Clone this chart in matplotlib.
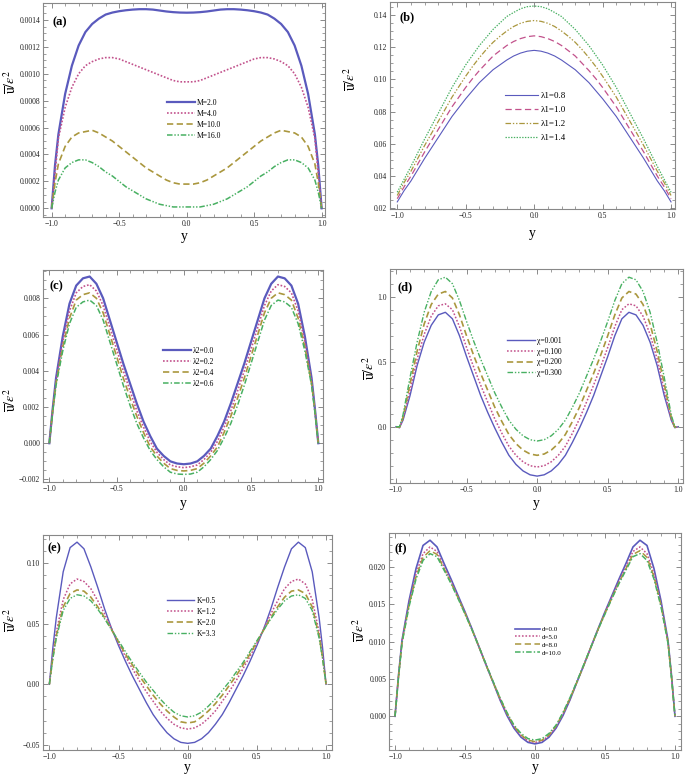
import matplotlib.pyplot as plt
from matplotlib.ticker import MultipleLocator, AutoMinorLocator, FuncFormatter

plt.rcParams['font.family'] = ['Liberation Serif', 'DejaVu Serif']
plt.rcParams['mathtext.fontset'] = 'stix'
plt.rcParams['lines.scale_dashes'] = False

# transverse coordinate y (shared by all panels)
yy = [-1, -0.975, -0.95, -0.9, -0.85, -0.8, -0.75, -0.7, -0.65, -0.6, -0.55, -0.5, -0.45,
      -0.4, -0.35, -0.3, -0.25, -0.2, -0.15, -0.1, -0.05, 0, 0.05, 0.1, 0.15, 0.2, 0.25,
      0.3, 0.35, 0.4, 0.45, 0.5, 0.55, 0.6, 0.65, 0.7, 0.75, 0.8, 0.85, 0.9, 0.95, 0.975, 1]

# (a) M
a_m2 = [0, 0.00032, 0.00055, 0.00085, 0.00106, 0.00121, 0.00131, 0.00137, 0.00141, 0.00144, 0.001455,
        0.001465, 0.001472, 0.001477, 0.00148, 0.00148, 0.001477, 0.00147, 0.001463, 0.001458, 0.001455,
        0.001454, 0.001455, 0.001458, 0.001463, 0.00147, 0.001477, 0.00148, 0.00148, 0.001477, 0.001472,
        0.001465, 0.001455, 0.00144, 0.00141, 0.00137, 0.00131, 0.00121, 0.00106, 0.00085, 0.00055, 0.00032, 0]
a_m4 = [0, 0.00026, 0.00052, 0.00075, 0.00090, 0.00100, 0.00106, 0.00109, 0.00111, 0.00112, 0.00112,
        0.00111, 0.00109, 0.00107, 0.00105, 0.00103, 0.00101, 0.00099, 0.00097, 0.00095, 0.00094,
        0.00094, 0.00094, 0.00095, 0.00097, 0.00099, 0.00101, 0.00103, 0.00105, 0.00107, 0.00109,
        0.00111, 0.00112, 0.00112, 0.00111, 0.00109, 0.00106, 0.00100, 0.00090, 0.00075, 0.00052, 0.00026, 0]
a_m10 = [0, 0.00019, 0.00033, 0.00046, 0.00053, 0.00056, 0.00057, 0.00058, 0.00056, 0.00053, 0.00050,
         0.00046, 0.00042, 0.00038, 0.00034, 0.00030, 0.00027, 0.00024, 0.00021, 0.00019, 0.00018,
         0.00018, 0.00018, 0.00019, 0.00021, 0.00024, 0.00027, 0.00030, 0.00034, 0.00038, 0.00042,
         0.00046, 0.00050, 0.00053, 0.00056, 0.00058, 0.00057, 0.00056, 0.00053, 0.00046, 0.00033, 0.00019, 0]
a_m16 = [0, 0.00012, 0.00021, 0.00030, 0.00034, 0.00036, 0.00036, 0.00034, 0.00031, 0.00027, 0.00024,
         0.00020, 0.00016, 0.00013, 0.00010, 0.00007, 0.00005, 0.00003, 0.00002, 0.00001, 0.00001,
         0.00001, 0.00001, 0.00001, 0.00002, 0.00003, 0.00005, 0.00007, 0.00010, 0.00013, 0.00016,
         0.00020, 0.00024, 0.00027, 0.00031, 0.00034, 0.00036, 0.00036, 0.00034, 0.00030, 0.00021, 0.00012, 0]

# (b) lambda1
b_08 = [0.024, 0.0275, 0.031, 0.037, 0.044, 0.051, 0.0575, 0.064, 0.0705, 0.077, 0.0825, 0.088, 0.093,
        0.098, 0.102, 0.106, 0.109, 0.112, 0.1145, 0.1163, 0.1175, 0.118, 0.1175, 0.1163, 0.1145, 0.112,
        0.109, 0.106, 0.102, 0.098, 0.093, 0.088, 0.0825, 0.077, 0.0705, 0.064, 0.0575, 0.051, 0.044,
        0.037, 0.031, 0.0275, 0.024]
b_10 = [0.026, 0.0297, 0.0334, 0.040, 0.0475, 0.055, 0.062, 0.069, 0.076, 0.083, 0.089, 0.095, 0.1005,
        0.1055, 0.110, 0.1145, 0.1178, 0.121, 0.1235, 0.1253, 0.1265, 0.127, 0.1265, 0.1253, 0.1235, 0.121,
        0.1178, 0.1145, 0.110, 0.1055, 0.1005, 0.095, 0.089, 0.083, 0.076, 0.069, 0.062, 0.055, 0.0475,
        0.040, 0.0334, 0.0297, 0.026]
b_12 = [0.028, 0.032, 0.036, 0.043, 0.051, 0.059, 0.0665, 0.074, 0.0815, 0.089, 0.0955, 0.102, 0.108,
        0.1135, 0.1185, 0.123, 0.1267, 0.130, 0.1328, 0.1348, 0.136, 0.1365, 0.136, 0.1348, 0.1328, 0.130,
        0.1267, 0.123, 0.1185, 0.1135, 0.108, 0.102, 0.0955, 0.089, 0.0815, 0.074, 0.0665, 0.059, 0.051,
        0.043, 0.036, 0.032, 0.028]
b_14 = [0.030, 0.034, 0.038, 0.046, 0.0545, 0.063, 0.071, 0.079, 0.087, 0.095, 0.102, 0.109, 0.115,
        0.121, 0.126, 0.131, 0.135, 0.139, 0.1415, 0.1438, 0.1451, 0.1455, 0.1451, 0.1438, 0.1415, 0.139,
        0.135, 0.131, 0.126, 0.121, 0.115, 0.109, 0.102, 0.095, 0.087, 0.079, 0.071, 0.063, 0.0545,
        0.046, 0.038, 0.034, 0.030]

# (c) lambda2
c_00 = [0, 0.0019, 0.0036, 0.0059, 0.0077, 0.0087, 0.0091, 0.0092, 0.0088, 0.0080, 0.0068, 0.0056, 0.0044,
        0.0033, 0.0022, 0.0012, 0.0004, -0.0003, -0.0007, -0.0010, -0.00112, -0.00116, -0.00112, -0.0010,
        -0.0007, -0.0003, 0.0004, 0.0012, 0.0022, 0.0033, 0.0044, 0.0056, 0.0068, 0.0080, 0.0088, 0.0092,
        0.0091, 0.0087, 0.0077, 0.0059, 0.0036, 0.0019, 0]
c_02 = [0, 0.0018, 0.0034, 0.0056, 0.0073, 0.0083, 0.00865, 0.00875, 0.0084, 0.0076, 0.0064, 0.0052, 0.0040,
        0.0029, 0.0018, 0.0009, 0.0001, -0.0005, -0.0009, -0.0012, -0.0013, -0.00135, -0.0013, -0.0012,
        -0.0009, -0.0005, 0.0001, 0.0009, 0.0018, 0.0029, 0.0040, 0.0052, 0.0064, 0.0076, 0.0084, 0.00875,
        0.00865, 0.0083, 0.0073, 0.0056, 0.0034, 0.0018, 0]
c_04 = [0, 0.0018, 0.0033, 0.0053, 0.0069, 0.0079, 0.0082, 0.0083, 0.0080, 0.0072, 0.0060, 0.0048, 0.0036,
        0.0025, 0.0015, 0.0006, -0.0002, -0.0007, -0.0011, -0.0014, -0.0015, -0.00153, -0.0015, -0.0014,
        -0.0011, -0.0007, -0.0002, 0.0006, 0.0015, 0.0025, 0.0036, 0.0048, 0.0060, 0.0072, 0.0080, 0.0083,
        0.0082, 0.0079, 0.0069, 0.0053, 0.0033, 0.0018, 0]
c_06 = [0, 0.0017, 0.0032, 0.0051, 0.0066, 0.0075, 0.0078, 0.0079, 0.0076, 0.0068, 0.0056, 0.0044, 0.0032,
        0.0021, 0.0011, 0.0003, -0.0004, -0.0009, -0.0013, -0.0016, -0.0017, -0.00172, -0.0017, -0.0016,
        -0.0013, -0.0009, -0.0004, 0.0003, 0.0011, 0.0021, 0.0032, 0.0044, 0.0056, 0.0068, 0.0076, 0.0079,
        0.0078, 0.0075, 0.0066, 0.0051, 0.0032, 0.0017, 0]

# (d) chi
d_0001 = [0, -0.008, 0.05, 0.24, 0.47, 0.65, 0.78, 0.86, 0.88, 0.83, 0.70, 0.54, 0.39, 0.24, 0.11, -0.01,
          -0.12, -0.22, -0.29, -0.34, -0.37, -0.38, -0.37, -0.34, -0.29, -0.22, -0.12, -0.01, 0.11, 0.24,
          0.39, 0.54, 0.70, 0.83, 0.88, 0.86, 0.78, 0.65, 0.47, 0.24, 0.05, -0.008, 0]
d_01 = [0, -0.006, 0.06, 0.28, 0.52, 0.71, 0.85, 0.93, 0.945, 0.90, 0.77, 0.61, 0.46, 0.32, 0.19, 0.06,
        -0.05, -0.15, -0.22, -0.27, -0.30, -0.31, -0.30, -0.27, -0.22, -0.15, -0.05, 0.06, 0.19, 0.32,
        0.46, 0.61, 0.77, 0.90, 0.945, 0.93, 0.85, 0.71, 0.52, 0.28, 0.06, -0.006, 0]
d_02 = [0, -0.004, 0.07, 0.33, 0.58, 0.79, 0.94, 1.02, 1.04, 0.99, 0.86, 0.70, 0.55, 0.41, 0.28, 0.15,
        0.04, -0.06, -0.13, -0.18, -0.21, -0.22, -0.21, -0.18, -0.13, -0.06, 0.04, 0.15, 0.28, 0.41,
        0.55, 0.70, 0.86, 0.99, 1.04, 1.02, 0.94, 0.79, 0.58, 0.33, 0.07, -0.004, 0]
d_03 = [0, 0.0, 0.09, 0.38, 0.65, 0.88, 1.04, 1.13, 1.15, 1.10, 0.97, 0.81, 0.66, 0.52, 0.39, 0.26,
        0.15, 0.05, -0.02, -0.07, -0.10, -0.11, -0.10, -0.07, -0.02, 0.05, 0.15, 0.26, 0.39, 0.52,
        0.66, 0.81, 0.97, 1.10, 1.15, 1.13, 1.04, 0.88, 0.65, 0.38, 0.09, 0.0, 0]

# (e) K
e_05 = [0, 0.030, 0.055, 0.093, 0.113, 0.1175, 0.112, 0.097, 0.080, 0.062, 0.046, 0.032, 0.019, 0.007,
        -0.004, -0.015, -0.025, -0.033, -0.040, -0.045, -0.048, -0.0488, -0.048, -0.045, -0.040, -0.033,
        -0.025, -0.015, -0.004, 0.007, 0.019, 0.032, 0.046, 0.062, 0.080, 0.097, 0.112, 0.1175, 0.113,
        0.093, 0.055, 0.030, 0]
e_12 = [0, 0.024, 0.043, 0.070, 0.083, 0.087, 0.085, 0.079, 0.069, 0.058, 0.046, 0.034, 0.023, 0.013,
        0.003, -0.006, -0.014, -0.022, -0.028, -0.033, -0.036, -0.037, -0.036, -0.033, -0.028, -0.022,
        -0.014, -0.006, 0.003, 0.013, 0.023, 0.034, 0.046, 0.058, 0.069, 0.079, 0.085, 0.087, 0.083,
        0.070, 0.043, 0.024, 0]
e_20 = [0, 0.022, 0.040, 0.064, 0.075, 0.078, 0.077, 0.072, 0.064, 0.055, 0.045, 0.035, 0.025, 0.016,
        0.007, -0.001, -0.009, -0.016, -0.022, -0.027, -0.031, -0.032, -0.031, -0.027, -0.022, -0.016,
        -0.009, -0.001, 0.007, 0.016, 0.025, 0.035, 0.045, 0.055, 0.064, 0.072, 0.077, 0.078, 0.075,
        0.064, 0.040, 0.022, 0]
e_33 = [0, 0.021, 0.038, 0.061, 0.071, 0.074, 0.073, 0.069, 0.062, 0.054, 0.045, 0.036, 0.027, 0.018,
        0.010, 0.002, -0.005, -0.012, -0.018, -0.023, -0.026, -0.027, -0.026, -0.023, -0.018, -0.012,
        -0.005, 0.002, 0.010, 0.018, 0.027, 0.036, 0.045, 0.054, 0.062, 0.069, 0.073, 0.074, 0.071,
        0.061, 0.038, 0.021, 0]

# (f) d
f_0 = [0, 0.0055, 0.0102, 0.0155, 0.0198, 0.0229, 0.0236, 0.0227, 0.0205, 0.0184, 0.0162, 0.0140, 0.0117,
       0.0093, 0.0069, 0.0046, 0.0022, 0.0001, -0.0016, -0.0028, -0.0035, -0.0037, -0.0035, -0.0028,
       -0.0016, 0.0001, 0.0022, 0.0046, 0.0069, 0.0093, 0.0117, 0.0140, 0.0162, 0.0184, 0.0205, 0.0227,
       0.0236, 0.0229, 0.0198, 0.0155, 0.0102, 0.0055, 0]
f_5 = [0, 0.0054, 0.0100, 0.0151, 0.0191, 0.0218, 0.0227, 0.0221, 0.0200, 0.0181, 0.0160, 0.0139, 0.0116,
       0.0093, 0.0069, 0.0046, 0.0023, 0.0003, -0.0014, -0.0026, -0.0033, -0.0035, -0.0033, -0.0026,
       -0.0014, 0.0003, 0.0023, 0.0046, 0.0069, 0.0093, 0.0116, 0.0139, 0.0160, 0.0181, 0.0200, 0.0221,
       0.0227, 0.0218, 0.0191, 0.0151, 0.0100, 0.0054, 0]
f_8 = [0, 0.0053, 0.0099, 0.0149, 0.0187, 0.0213, 0.0222, 0.0217, 0.0198, 0.0179, 0.0159, 0.0138, 0.0116,
       0.0093, 0.0069, 0.0046, 0.0024, 0.0004, -0.0013, -0.0025, -0.0032, -0.0034, -0.0032, -0.0025,
       -0.0013, 0.0004, 0.0024, 0.0046, 0.0069, 0.0093, 0.0116, 0.0138, 0.0159, 0.0179, 0.0198, 0.0217,
       0.0222, 0.0213, 0.0187, 0.0149, 0.0099, 0.0053, 0]
f_10 = [0, 0.0052, 0.0098, 0.0147, 0.0184, 0.0209, 0.0218, 0.0214, 0.0196, 0.0178, 0.0158, 0.0137, 0.0116,
        0.0093, 0.0070, 0.0047, 0.0025, 0.0005, -0.0012, -0.0023, -0.0030, -0.0032, -0.0030, -0.0023,
        -0.0012, 0.0005, 0.0025, 0.0047, 0.0070, 0.0093, 0.0116, 0.0137, 0.0158, 0.0178, 0.0196, 0.0214,
        0.0218, 0.0209, 0.0184, 0.0147, 0.0098, 0.0052, 0]

labels_a = ['M=2.0', 'M=4.0', 'M=10.0', 'M=16.0']
labels_b = ['λ1=0.8', 'λ1=1.0', 'λ1=1.2', 'λ1=1.4']
labels_c = ['λ2=0.0', 'λ2=0.2', 'λ2=0.4', 'λ2=0.6']
labels_d = ['χ=0.001', 'χ=0.100', 'χ=0.200', 'χ=0.300']
labels_e = ['K=0.5', 'K=1.2', 'K=2.0', 'K=3.3']
labels_f = ['d=0.0', 'd=5.0', 'd=8.0', 'd=10.0']

colors = ['#5a5abd', '#c2528c', '#aa973e', '#48b062']
SOLID = '-'
DOT = (0, (1.2, 1.3))
DASH = (0, (4.5, 2.5))
DASHDOT = (0, (4, 1.5, 1, 1.5))
DDOT = (0, (4, 1.3, 1, 1.3, 1, 1.3))
FINEDOT = (0, (1, 1))

W, H = 685, 776
fig = plt.figure(figsize=(6.85, 7.76), dpi=100)


def fmt(dec):
    return FuncFormatter(lambda v, p: ('%.*f' % (dec, v)).replace('-', '\u2212'))


def panel(box, xlim, ylim, ymajor, ydec, yminor, series, labels, styles, widths,
          leg, legfs, lspace, tag, tagpos, ylabpos, xlaby):
    l, t, r, b = box
    ax = fig.add_axes([l / W, 1 - b / H, (r - l) / W, (b - t) / H])
    for vals, lab, st, c, lw in zip(series, labels, styles, colors, widths):
        ax.plot(yy, vals, color=c, linestyle=st, linewidth=lw, label=lab)
    ax.set_xlim(*xlim)
    ax.set_ylim(*ylim)
    ax.xaxis.set_major_locator(MultipleLocator(0.5))
    ax.xaxis.set_minor_locator(AutoMinorLocator(5))
    ax.yaxis.set_major_locator(MultipleLocator(ymajor))
    ax.yaxis.set_minor_locator(AutoMinorLocator(yminor))
    ax.xaxis.set_major_formatter(fmt(1))
    ax.yaxis.set_major_formatter(fmt(ydec))
    ax.tick_params(which='both', direction='in', top=True, right=True, colors='#777777',
                   labelcolor='#222222', labelsize=5.5, pad=2)
    ax.tick_params(which='major', length=3.5, width=0.6)
    ax.tick_params(which='minor', length=2, width=0.5)
    for s in ax.spines.values():
        s.set_color('#888888')
        s.set_linewidth(0.8)
    ax.set_xlabel('y', fontsize=10)
    ax.xaxis.set_label_coords(0.5, xlaby)
    ax.set_ylabel(r'$\overline{\mathrm{u}}/\epsilon^{2}$', fontsize=10)
    ax.yaxis.set_label_coords(*ylabpos)
    ax.text(tagpos[0], tagpos[1], tag, transform=ax.transAxes, fontsize=9, fontweight='bold',
            va='center', ha='left')
    ax.legend(loc='upper left', bbox_to_anchor=leg, frameon=False, fontsize=legfs,
              handlelength=3.6, handletextpad=0.3, labelspacing=lspace, borderpad=0, borderaxespad=0)
    return ax


panel((43, 3, 325, 217), (-1.064, 1.025), (-0.0000647, 0.001526), 0.0002, 4, 4,
      [a_m2, a_m4, a_m10, a_m16], labels_a, [SOLID, DOT, DASH, DDOT], [1.6, 1.2, 1.2, 1.1],
      (0.44, 0.551), 5.5, 0.38, '(a)', (0.035, 0.911), (-0.088, 0.63), -0.061)

panel((390, 2, 675, 209), (-1.053, 1.029), (0.0196, 0.148), 0.02, 2, 4,
      [b_08, b_10, b_12, b_14], labels_b, [SOLID, DASH, DDOT, FINEDOT], [0.8, 0.9, 0.9, 0.9],
      (0.404, 0.565), 6.5, 0.62, '(b)', (0.035, 0.928), (-0.112, 0.63), -0.087)

panel((43, 270, 323, 482), (-1.047, 1.035), (-0.00214, 0.00956), 0.002, 3, 4,
      [c_00, c_02, c_04, c_06], labels_c, [SOLID, DOT, DASH, DASHDOT], [1.6, 1.2, 1.2, 1.1],
      (0.429, 0.637), 5.5, 0.4, '(c)', (0.025, 0.925), (-0.088, 0.387), -0.071)

panel((390, 269, 683, 483), (-1.042, 1.033), (-0.433, 1.213), 0.5, 1, 5,
      [d_0001, d_01, d_02, d_03], labels_d, [SOLID, DOT, DASH, DDOT], [1.0, 1.1, 1.2, 1.0],
      (0.40, 0.682), 5.5, 0.35, '(d)', (0.024, 0.916), (-0.044, 0.537), -0.065)

panel((43, 535, 332, 750), (-1.046, 1.043), (-0.0543, 0.1234), 0.05, 2, 5,
      [e_05, e_12, e_20, e_33], labels_e, [SOLID, DOT, DASH, DDOT], [1.0, 1.1, 1.2, 1.0],
      (0.429, 0.712), 5.5, 0.4, '(e)', (0.017, 0.94), (-0.084, 0.605), -0.05)

panel((389, 533, 681, 750), (-1.043, 1.043), (-0.00452, 0.02457), 0.005, 3, 5,
      [f_0, f_5, f_8, f_10], labels_f, [SOLID, DOT, DASH, DASHDOT], [1.2, 1.1, 1.1, 1.1],
      (0.432, 0.571), 5.0, 0.3, '(f)', (0.02, 0.93), (-0.072, 0.553), -0.05)

fig.savefig('out.png', dpi=100)
